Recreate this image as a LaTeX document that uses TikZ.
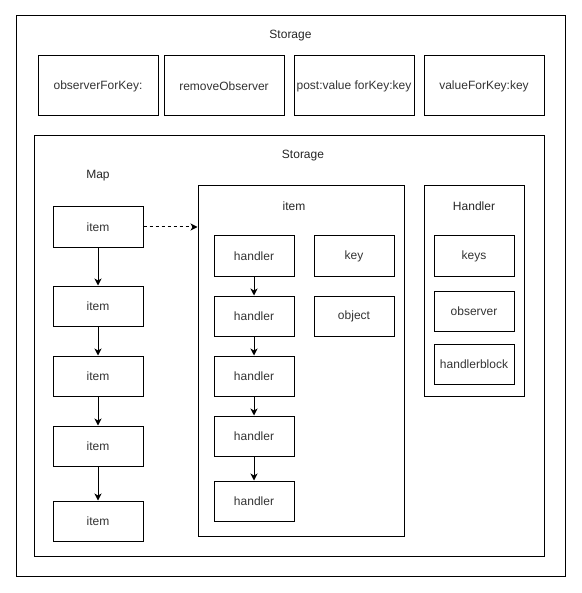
\documentclass[tikz,border=0pt]{standalone}
\usepackage{fontspec}
\setmainfont{Liberation Sans}
\usetikzlibrary{arrows.meta}
\begin{document}
\begin{tikzpicture}[x=1pt,y=-1pt,
  box/.style={draw=black,line width=1pt,inner sep=0pt,rectangle,font=\fontsize{12}{14}\selectfont,text=black!80},
  lbl/.style={inner sep=0pt,font=\fontsize{12}{14}\selectfont,text=black!85},
  arr/.style={line width=1pt,-{Stealth[length=7pt,width=7pt,inset=2pt]}}
]
\useasboundingbox (0,0) rectangle (581,593);
% outer storage
\node[box,minimum width=549pt,minimum height=560pt] (outer) at (290.5,296) {};
\node[lbl] (outerlbl) at (290.5,36) {Storage};
\node[box,minimum width=120pt,minimum height=60pt] (b1) at (98,86) {observerForKey:};
\node[box,minimum width=120pt,minimum height=60pt] (b2) at (224,86) {removeObserver};
\node[box,minimum width=120pt,minimum height=60pt] (b3) at (354,86) {post:value forKey:key};
\node[box,minimum width=120pt,minimum height=60pt] (b4) at (484,86) {valueForKey:key};
% inner storage
\node[box,minimum width=510pt,minimum height=420pt] (inner) at (289,346) {};
\node[lbl] (innerlbl) at (303,156) {Storage};
\node[lbl] (maplbl) at (98,176) {Map};
% map items
\node[box,minimum width=90pt,minimum height=40pt] (i1) at (98,227) {item};
\node[box,minimum width=90pt,minimum height=40pt] (i2) at (98,306) {item};
\node[box,minimum width=90pt,minimum height=40pt] (i3) at (98,376) {item};
\node[box,minimum width=90pt,minimum height=40pt] (i4) at (98,446) {item};
\node[box,minimum width=90pt,minimum height=40pt] (i5) at (98,521) {item};
% item container
\node[box,minimum width=206pt,minimum height=350pt] (ic) at (301,361) {};
\node[lbl] (iclbl) at (294,206) {item};
\node[box,minimum width=80pt,minimum height=40pt] (h1) at (254,256) {handler};
\node[box,minimum width=80pt,minimum height=40pt] (h2) at (254,316) {handler};
\node[box,minimum width=80pt,minimum height=40pt] (h3) at (254,376) {handler};
\node[box,minimum width=80pt,minimum height=40pt] (h4) at (254,436) {handler};
\node[box,minimum width=80pt,minimum height=40pt] (h5) at (254,501) {handler};
\node[box,minimum width=80pt,minimum height=40pt] (key) at (354,256) {key};
\node[box,minimum width=80pt,minimum height=40pt] (obj) at (354,316) {object};
% handler container
\node[box,minimum width=100pt,minimum height=210pt] (hc) at (474,291) {};
\node[lbl] (hclbl) at (474,206) {Handler};
\node[box,minimum width=80pt,minimum height=40pt] (keys) at (474,256) {keys};
\node[box,minimum width=80pt,minimum height=40pt] (obs) at (474,311) {observer};
\node[box,minimum width=80pt,minimum height=40pt] (hb) at (474,364) {handlerblock};
% arrows
\draw[arr] (i1) -- (i2);
\draw[arr] (i2) -- (i3);
\draw[arr] (i3) -- (i4);
\draw[arr] (i4) -- (i5);
\draw[arr] (h1) -- (h2);
\draw[arr] (h2) -- (h3);
\draw[arr] (h3) -- (h4);
\draw[arr] (h4) -- (h5);
\draw[arr,dash pattern=on 3pt off 3pt] (i1.east) -- (i1.east -| ic.west);
\end{tikzpicture}
\end{document}
